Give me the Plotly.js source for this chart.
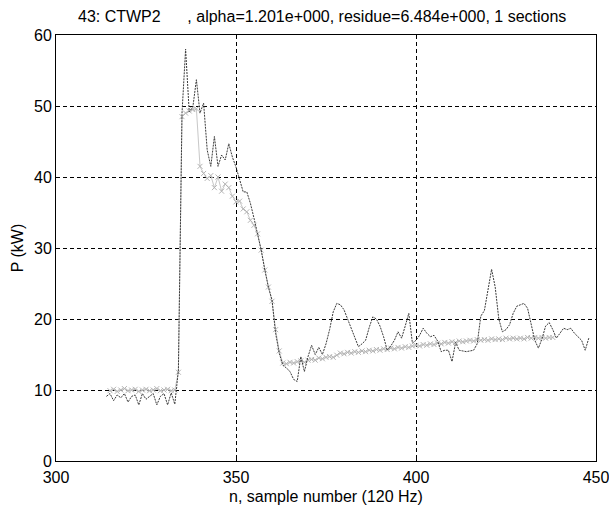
<!DOCTYPE html>
<html>
<head>
<meta charset="utf-8">
<script src="https://cdn.plot.ly/plotly-3.0.1.min.js"></script>
<style>html,body{margin:0;padding:0;background:#fff;}#chart{width:609px;height:508px;}</style>
</head>
<body>
<div id="chart"></div>
<script>
// Measured power (black line), samples n = 314 .. 448
const measuredStart = 314;
const measuredP = [
  9.1, 9.5, 8.5, 9.3, 8.9, 9.5, 8.3, 9.1, 9.3, 7.9,
  9.5, 8.7, 9.1, 9.5, 7.9, 9.1, 9.5, 7.9, 9.6, 8.0,
  12.8, 49.0, 58.0, 49.2, 49.8, 53.7, 49.0, 50.4, 43.8, 41.5,
  45.7, 41.5, 43.1, 42.4, 44.7, 42.8, 41.4, 39.6, 37.9, 37.9,
  36.3, 34.2, 32.1, 29.7, 26.9, 24.5, 22.7, 18.0, 15.2, 13.5,
  13.1, 12.6, 11.5, 11.2, 14.7, 12.6, 14.7, 16.3, 15.0, 16.0,
  15.0, 16.5, 18.5, 21.0, 22.2, 22.0, 21.3, 20.0, 18.9, 17.5,
  16.1, 16.5, 17.0, 18.8, 20.3, 20.0, 19.0, 17.5, 15.6, 16.2,
  17.0, 18.2, 17.3, 19.0, 20.8, 16.6, 17.0, 17.7, 18.7, 18.0,
  17.5, 17.7, 16.9, 15.4, 15.6, 15.6, 14.0, 16.7, 15.6, 15.5,
  15.4, 15.5, 15.6, 16.5, 20.4, 21.2, 24.3, 27.0, 24.5, 20.0,
  18.2, 18.5, 19.2, 20.8, 21.8, 22.0, 22.2, 21.5, 19.0, 17.0,
  15.9, 17.2, 19.0, 19.5, 18.5, 17.3, 18.0, 18.7, 18.5, 18.7,
  18.0, 17.5, 17.0, 15.6, 17.3
];

// Model fit (light grey crosses), samples n = 315 .. 448
const modelStart = 315;
const modelP = [
  9.9, 10.1, 9.8, 10.0, 10.2, 9.9, 10.0, 10.1, 9.8, 10.0,
  10.1, 9.9, 10.0, 10.2, 9.9, 10.0, 10.1, 9.9, 10.0, 12.5,
  48.5, 49.0, 49.3, 49.5, 49.6, 41.5, 40.5, 39.8, 40.2, 38.5,
  40.0, 38.0, 39.0, 38.5, 37.3, 36.5, 36.6, 35.5, 35.1, 33.9,
  33.2, 32.0, 29.7, 26.9, 24.5, 22.5, 18.5, 15.5, 13.8, 13.7,
  13.9, 13.8, 14.0, 14.1, 13.9, 14.2, 14.3, 14.2, 14.5, 14.4,
  14.6, 14.7, 14.6, 14.9, 15.2, 15.1, 15.3, 15.2, 15.4, 15.3,
  15.5, 15.4, 15.6, 15.5, 15.7, 15.6, 15.8, 15.7, 15.9, 15.8,
  16.0, 15.9, 16.1, 16.0, 16.2, 16.3, 16.2, 16.4, 16.3, 16.5,
  16.4, 16.6, 16.5, 16.7, 16.6, 16.8, 16.7, 16.9, 16.8, 16.9,
  17.0, 16.9, 17.1, 17.0, 17.1, 17.0, 17.2, 17.1, 17.2, 17.1,
  17.3, 17.2, 17.3, 17.2, 17.3, 17.2, 17.4, 17.3, 17.4, 17.3,
  17.4, 17.3, 17.4, 17.4
];

const xTicks = [300, 350, 400, 450];
const yTicks = [0, 10, 20, 30, 40, 50, 60];

const titleText = '43: CTWP2&nbsp;&nbsp;&nbsp;&nbsp;&nbsp;&nbsp;, alpha=1.201e+000, residue=6.484e+000, 1 sections';
const xTitle = 'n, sample number (120 Hz)';
const yTitle = 'P (kW)';

const measuredN = measuredP.map((_, i) => measuredStart + i);
const modelN = modelP.map((_, i) => modelStart + i);

const fam = 'Liberation Sans, Arial, sans-serif';
const tickFont = {family: fam, size: 16, color: '#000'};
const labelFont = {family: fam, size: 16, color: '#000'};
const titleFont = {family: fam, size: 16, color: '#000'};

const traces = [
  {
    x: modelN, y: modelP, type: 'scatter', mode: 'lines+markers',
    line: {color: '#c8c8c8', width: 1},
    marker: {symbol: 'x-thin-open', size: 5, color: '#b4b4b4', line: {color: '#b4b4b4', width: 1}},
    hoverinfo: 'skip'
  },
  {
    x: measuredN, y: measuredP, type: 'scatter', mode: 'lines',
    line: {color: '#3a3a3a', width: 1, dash: '2px,1px'},
    hoverinfo: 'skip'
  }
];

const axisCommon = {
  showline: true, mirror: true, linecolor: '#000', linewidth: 1,
  ticks: 'inside', ticklen: 4, tickcolor: '#000',
  showgrid: true, gridcolor: '#000', gridwidth: 1, griddash: '4px,3px',
  zeroline: false, tickfont: tickFont, ticklabeloverflow: 'allow'
};

const layout = {
  width: 609, height: 508,
  margin: {l: 56, r: 13, t: 35, b: 47},
  paper_bgcolor: '#fff', plot_bgcolor: '#fff',
  showlegend: false,
  font: tickFont,
  title: {text: titleText, font: titleFont, x: 0.529, xanchor: 'center', y: 0.967, yanchor: 'middle'},
  xaxis: Object.assign({}, axisCommon, {
    range: [300, 450], tickvals: xTicks, ticktext: xTicks.map(String),
    ticklabelstandoff: 2,
    title: {text: xTitle, font: labelFont, standoff: 5}
  }),
  yaxis: Object.assign({}, axisCommon, {
    range: [0, 60], tickvals: yTicks, ticktext: yTicks.map(String),
    title: {text: yTitle, font: labelFont, standoff: 6}
  })
};

Plotly.newPlot('chart', traces, layout, {staticPlot: true, displayModeBar: false});
</script>
</body>
</html>
